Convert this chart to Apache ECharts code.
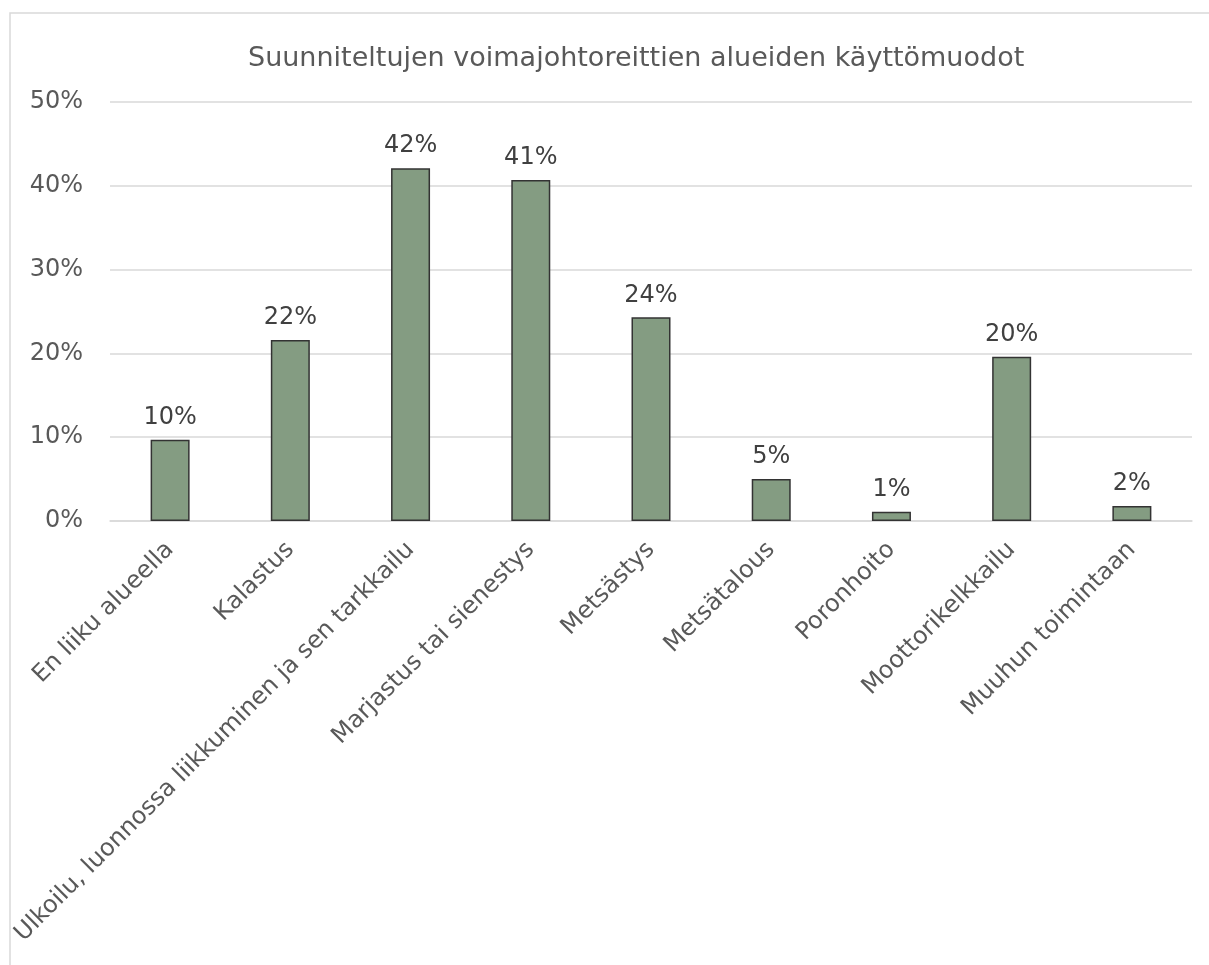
<!DOCTYPE html>
<html><head><meta charset="utf-8">
<script src="https://cdn.jsdelivr.net/npm/echarts@6/dist/echarts.min.js"></script>
<style>html,body{margin:0;padding:0;background:#fff}#c{width:1209px;height:965px}</style>
</head><body><div id="c"></div>
<script>
const categories = ["En liiku alueella","Kalastus","Ulkoilu, luonnossa liikkuminen ja sen tarkkailu","Marjastus tai sienestys","Metsästys","Metsätalous","Poronhoito","Moottorikelkkailu","Muuhun toimintaan"];
const values = [9.7, 21.6, 42.1, 40.7, 24.3, 5.0, 1.1, 19.6, 1.8];
const titleText = "Suunniteltujen voimajohtoreittien alueiden käyttömuodot";
const chart = echarts.init(document.getElementById('c'));
chart.setOption({
  animation:false,
  textStyle:{fontFamily:'DejaVu Sans'},
  title:{text:titleText,left:243,top:40,textStyle:{fontFamily:'DejaVu Sans',fontSize:27,fontWeight:'normal',color:'#595959'}},
  graphic:[{type:'rect',shape:{x:10,y:13,width:1230,height:1000},style:{fill:'none',stroke:'#d9d9d9',lineWidth:1.5},silent:true}],
  grid:{left:110,right:17,top:102,bottom:444,containLabel:false},
  xAxis:{type:'category',data:categories,
    axisLine:{lineStyle:{color:'#d9d9d9',width:1.5}},axisTick:{show:false},
    axisLabel:{rotate:45,interval:0,fontSize:24,color:'#595959',fontFamily:'DejaVu Sans',margin:25}},
  yAxis:{type:'value',min:0,max:50,interval:10,
    axisLine:{show:false},axisTick:{show:false},
    splitLine:{lineStyle:{color:'#d9d9d9',width:1.5}},
    axisLabel:{formatter:'{value}%',fontSize:24,color:'#595959',fontFamily:'DejaVu Sans',margin:27}},
  series:[{type:'bar',data:values,barWidth:39,
    itemStyle:{color:'#849C82',borderColor:'#333333',borderWidth:1.5},
    label:{show:true,position:'top',distance:10,fontSize:24,color:'#404040',fontFamily:'DejaVu Sans',
      formatter:p=>Math.round(p.value)+'%'}}]
});
</script></body></html>
